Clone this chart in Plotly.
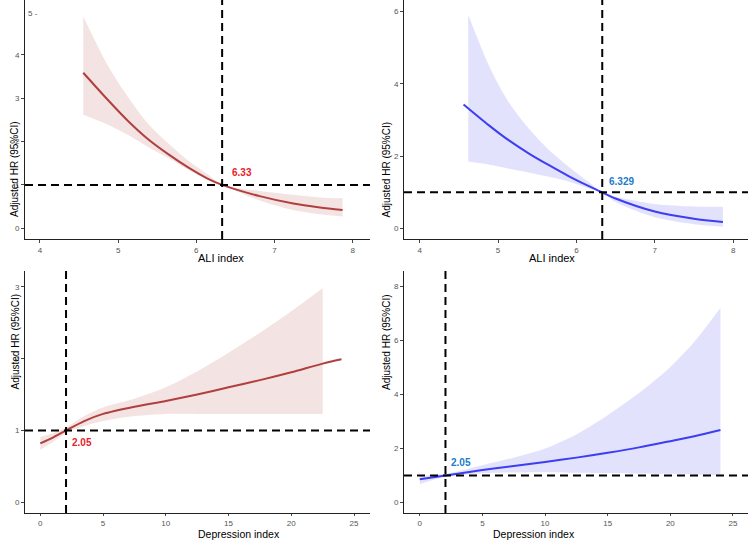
import plotly.graph_objects as go

# ---- Data ----
ali1_x = [4.555, 4.87, 5.13, 5.38, 5.64, 5.89, 6.15, 6.33, 6.81, 7.24, 7.58, 7.87]
ali1_hr = [3.59, 2.96, 2.47, 2.06, 1.71, 1.41, 1.14, 1.0, 0.74, 0.57, 0.48, 0.42]
ali1_up = [4.89, 3.75, 3.02, 2.42, 1.96, 1.57, 1.24, 1.0, 0.86, 0.77, 0.71, 0.69]
ali1_lo = [2.62, 2.39, 2.15, 1.88, 1.62, 1.36, 1.12, 1.0, 0.64, 0.42, 0.32, 0.27]

ali2_x = [4.56, 4.88, 5.13, 5.39, 5.65, 5.90, 6.16, 6.33, 6.5, 7.0, 7.5, 7.87]
ali2_hr = [3.43, 2.86, 2.45, 2.08, 1.75, 1.45, 1.17, 1.0, 0.83, 0.47, 0.27, 0.18]
ali2_band_x = [4.62, 4.88, 5.13, 5.39, 5.65, 5.90, 6.16, 6.33, 6.5, 7.0, 7.5, 7.87]
ali2_up = [5.91, 4.52, 3.51, 2.77, 2.17, 1.71, 1.28, 1.0, 0.88, 0.68, 0.61, 0.60]
ali2_lo = [1.85, 1.77, 1.66, 1.55, 1.43, 1.30, 1.11, 1.0, 0.73, 0.31, 0.12, 0.05]

dep1_x = [0, 1, 2.05, 3.5, 5, 7.5, 10, 12.5, 15, 17.5, 20, 22.5, 24]
dep1_hr = [0.82, 0.90, 1.0, 1.13, 1.23, 1.33, 1.41, 1.50, 1.60, 1.70, 1.81, 1.93, 1.99]
dep1_band_x = [0, 1, 2.05, 3.5, 5, 7.5, 10, 12.5, 15, 17.5, 20, 22.5]
dep1_up = [0.91, 0.96, 1.04, 1.20, 1.32, 1.44, 1.60, 1.82, 2.08, 2.36, 2.66, 2.98]
dep1_lo = [0.73, 0.84, 0.96, 1.06, 1.13, 1.20, 1.23, 1.23, 1.23, 1.23, 1.23, 1.23]

dep2_x = [0, 2.05, 5, 7.5, 10, 12.5, 15, 17.5, 20, 22, 24]
dep2_hr = [0.86, 1.0, 1.20, 1.35, 1.50, 1.66, 1.84, 2.04, 2.27, 2.46, 2.68]
dep2_up = [0.98, 1.06, 1.38, 1.66, 2.00, 2.52, 3.23, 4.05, 5.02, 6.00, 7.20]
dep2_lo = [0.68, 0.95, 1.08, 1.11, 1.12, 1.10, 1.09, 1.07, 1.06, 1.04, 1.02]

cut_ali1, cut_ali2, cut_dep1, cut_dep2 = 6.33, 6.33, 2.05, 2.05
lab_ali1, lab_ali2, lab_dep1, lab_dep2 = "6.33", "6.329", "2.05", "2.05"

RED_LINE, RED_BAND, RED_TXT = "#b0403f", "rgba(176,64,63,0.15)", "#e8212b"
BLUE_LINE, BLUE_BAND, BLUE_TXT = "#3d3df2", "rgba(61,61,242,0.15)", "#1c7ccc"

W, H = 750, 540
panels = [
    dict(x=ali1_x, hr=ali1_hr, bx=ali1_x, up=ali1_up, lo=ali1_lo, lc=RED_LINE, bc=RED_BAND,
         px=(25, 370, 0, 239), xr=[3.81, 8.22], yr=[-0.25, 5.27], yt=[0, 1, 2, 3, 4], xt=[4, 5, 6, 7, 8],
         cut=cut_ali1, lab=lab_ali1, labxy=(6.59, 1.28), tc=RED_TXT, xtitle="ALI index", tty=258, tfs=11, tl=3),
    dict(x=ali2_x, hr=ali2_hr, bx=ali2_band_x, up=ali2_up, lo=ali2_lo, lc=BLUE_LINE, bc=BLUE_BAND,
         px=(404, 748, 0, 239), xr=[3.80, 8.19], yr=[-0.29, 6.32], yt=[0, 2, 4, 6], xt=[4, 5, 6, 7, 8],
         cut=cut_ali2, lab=lab_ali2, labxy=(6.57, 1.29), tc=BLUE_TXT, xtitle="ALI index", tty=258, tfs=11, tl=3),
    dict(x=dep1_x, hr=dep1_hr, bx=dep1_band_x, up=dep1_up, lo=dep1_lo, lc=RED_LINE, bc=RED_BAND,
         px=(25, 370, 271, 513), xr=[-1.22, 26.27], yr=[-0.15, 3.22], yt=[0, 1, 2, 3], xt=[0, 5, 10, 15, 20, 25],
         cut=cut_dep1, lab=lab_dep1, labxy=(3.32, 0.835), tc=RED_TXT, xtitle="Depression index", tty=534,
         tfs=10.5, tl=2),
    dict(x=dep2_x, hr=dep2_hr, bx=dep2_x, up=dep2_up, lo=dep2_lo, lc=BLUE_LINE, bc=BLUE_BAND,
         px=(404, 748, 271, 513), xr=[-1.26, 26.2], yr=[-0.39, 8.57], yt=[0, 2, 4, 6, 8], xt=[0, 5, 10, 15, 20, 25],
         cut=cut_dep2, lab=lab_dep2, labxy=(3.33, 1.49), tc=BLUE_TXT, xtitle="Depression index", tty=534,
         tfs=10.5, tl=2),
]

fig = go.Figure()
shapes, annotations = [], []
FONT = "Liberation Sans, Arial, sans-serif"

for i, p in enumerate(panels, start=1):
    xa = "x" if i == 1 else f"x{i}"
    ya = "y" if i == 1 else f"y{i}"
    fig.add_trace(go.Scatter(x=p["bx"], y=p["lo"], mode="lines",
                             line=dict(width=0, shape="spline", smoothing=0.8),
                             xaxis=xa, yaxis=ya, showlegend=False, hoverinfo="skip"))
    fig.add_trace(go.Scatter(x=p["bx"], y=p["up"], mode="lines",
                             line=dict(width=0, shape="spline", smoothing=0.8),
                             fill="tonexty", fillcolor=p["bc"], xaxis=xa, yaxis=ya, showlegend=False,
                             hoverinfo="skip"))
    fig.add_trace(go.Scatter(x=p["x"], y=p["hr"], mode="lines",
                             line=dict(color=p["lc"], width=2, shape="spline", smoothing=0.8),
                             xaxis=xa, yaxis=ya, showlegend=False))
    x0, x1, yt, yb = p["px"]
    axis_common = dict(showgrid=False, zeroline=False, showline=True, linecolor="#222", linewidth=1,
                       ticks="outside", tickcolor="#444", tickwidth=1,
                       tickfont=dict(size=8, color="#555", family=FONT))
    fig.layout[f"xaxis{'' if i == 1 else i}"] = dict(domain=[x0 / W, x1 / W], range=p["xr"], tickvals=p["xt"],
                                                     anchor=ya, ticklen=p["tl"], **axis_common)
    fig.layout[f"yaxis{'' if i == 1 else i}"] = dict(domain=[1 - yb / H, 1 - yt / H], range=p["yr"],
                                                     tickvals=p["yt"], anchor=xa, ticklen=3, **axis_common)
    dash = dict(color="black", width=2, dash="8px,5px")
    shapes.append(dict(type="line", xref=xa, yref=f"{ya} domain", x0=p["cut"], x1=p["cut"], y0=0, y1=1, line=dash))
    shapes.append(dict(type="line", xref=f"{xa} domain", yref=ya, x0=0, x1=1, y0=1, y1=1, line=dash))
    annotations.append(dict(x=p["labxy"][0], y=p["labxy"][1], xref=xa, yref=ya, text=f"<b>{p['lab']}</b>",
                            showarrow=False, font=dict(size=10, color=p["tc"], family=FONT)))
    # axis titles
    annotations.append(dict(x=(x0 - 18) / W, y=1 - (yt + yb) / 2 / H, xref="paper", yref="paper",
                            text="Adjusted HR (95%CI)", textangle=-90, showarrow=False,
                            font=dict(size=10, color="black", family=FONT)))
    annotations.append(dict(x=(x0 + x1) / 2 / W, y=1 - p["tty"] / H, xref="paper", yref="paper",
                            yanchor="middle", text=p["xtitle"], showarrow=False, borderpad=0,
                            font=dict(size=p["tfs"], color="black", family=FONT)))

# stray tick label in the first panel
annotations.append(dict(x=3.91, y=4.95, xref="x", yref="y", text="5 -", showarrow=False,
                        font=dict(size=8, color="#555", family=FONT)))

fig.update_layout(width=W, height=H, margin=dict(l=0, r=0, t=0, b=0), plot_bgcolor="white",
                  paper_bgcolor="white", shapes=shapes, annotations=annotations, showlegend=False)

fig.write_html("out.html")
